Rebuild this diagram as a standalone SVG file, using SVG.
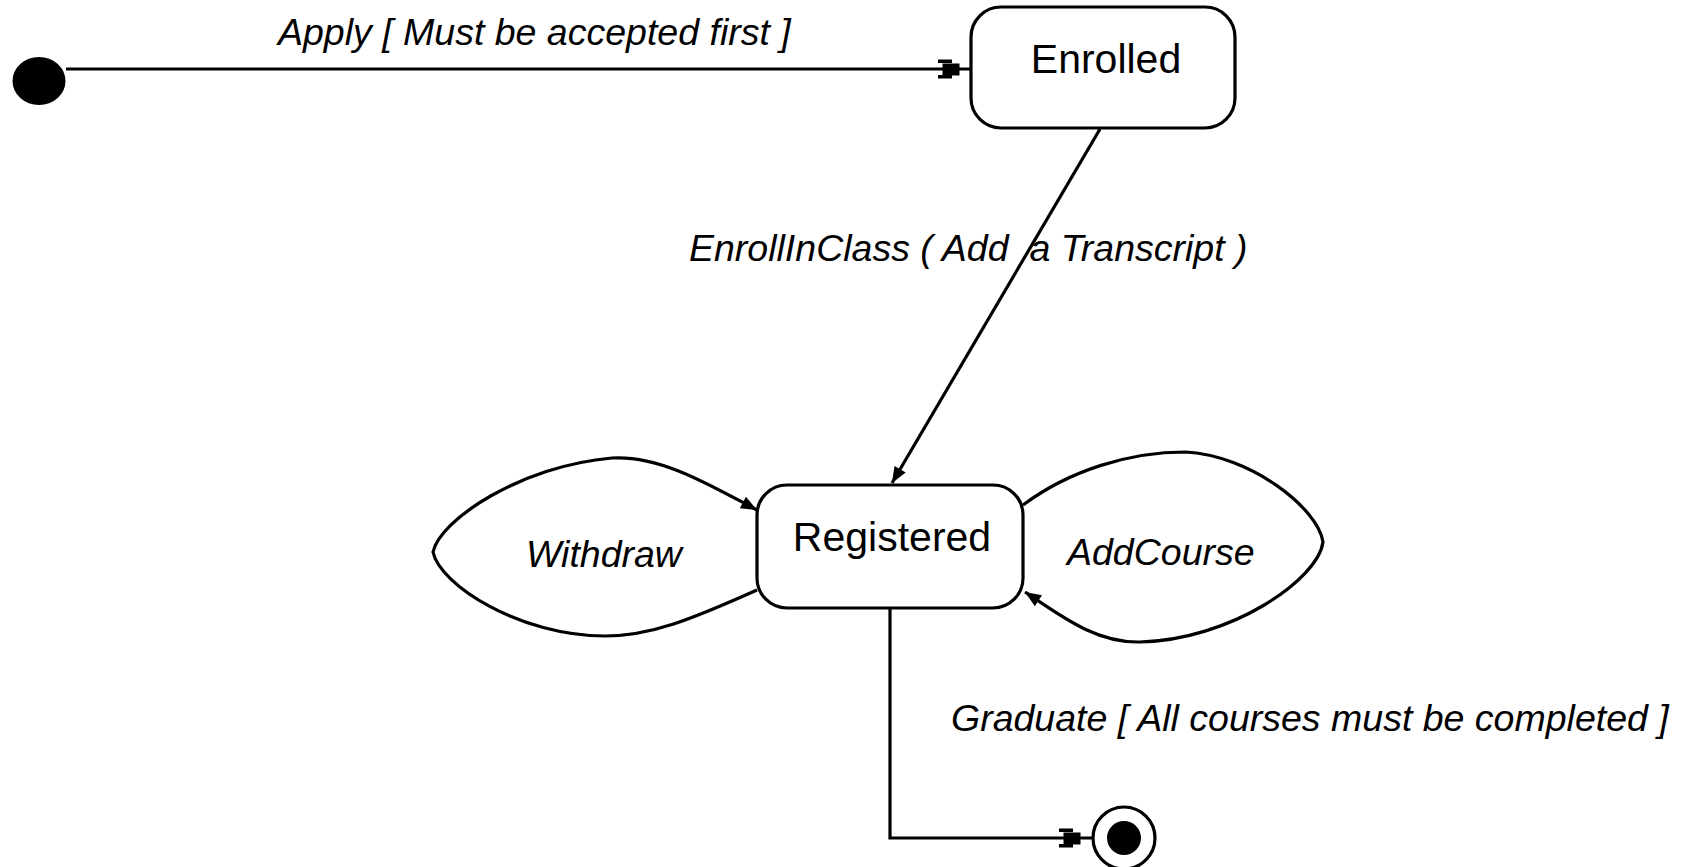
<svg xmlns="http://www.w3.org/2000/svg" width="1694" height="867" viewBox="0 0 1694 867">
<style>
.state{fill:#fff;stroke:#000;stroke-width:3.2}
.name{font-family:"Liberation Sans",Arial,sans-serif;font-size:41px;fill:#000;text-anchor:middle}
.lbl{font-family:"Liberation Sans",Arial,sans-serif;font-size:37.5px;font-style:italic;fill:#000}
.edge{fill:none;stroke:#000;stroke-width:3.2}
</style>
<defs>
<marker id="arrow" markerUnits="userSpaceOnUse" viewBox="-17 -8 18 16" refX="0" refY="0" markerWidth="18" markerHeight="16" orient="auto">
<path d="M0,0 L-16,-6.5 L-16,6.5 Z" fill="#000"/>
</marker>
<marker id="block" markerUnits="userSpaceOnUse" viewBox="-36 -12 40 24" refX="0" refY="0" markerWidth="40" markerHeight="24" orient="auto">
<rect x="-33" y="-9.5" width="14" height="3.5" fill="#000"/>
<rect x="-28.5" y="-5.5" width="17" height="12" fill="#000"/>
<rect x="-33" y="6" width="14" height="3.5" fill="#000"/>
</marker>
</defs>
<g id="connectors">
<path class="edge" d="M66,69 L971,69" marker-end="url(#block)"/>
<path class="edge" d="M1100,129 L892,483" marker-end="url(#arrow)"/>
<path class="edge" d="M757,590 C690,620 650,636 605,636 C520,636 440,585 433,552 C440,520 520,466 612,458 C660,455 710,485 757,510" marker-end="url(#arrow)"/>
<path class="edge" d="M1023,505 C1070,470 1130,452 1185,452 C1250,455 1318,508 1323,542 C1318,580 1230,640 1140,642 C1095,643 1060,615 1025,592" marker-end="url(#arrow)"/>
<path class="edge" d="M890,608 L890,838 L1092,838" marker-end="url(#block)"/>
<text class="lbl" x="278" y="45">Apply [ Must be accepted first ]</text>
<text class="lbl" x="689" y="261" xml:space="preserve">EnrollInClass ( Add  a Transcript )</text>
<text class="lbl" x="526" y="567">Withdraw</text>
<text class="lbl" x="1067" y="565">AddCourse</text>
<text class="lbl" x="951" y="731">Graduate [ All courses must be completed ]</text>
</g>
<g id="initial">
<ellipse cx="39" cy="81" rx="26.5" ry="24" fill="#000"/>
</g>
<g id="enrolled">
<rect class="state" x="971" y="7" width="264" height="121" rx="30" ry="30"/>
<text class="name" x="1106" y="73">Enrolled</text>
</g>
<g id="registered">
<rect class="state" x="757" y="485" width="266" height="123" rx="30" ry="30"/>
<text class="name" x="892" y="551">Registered</text>
</g>
<g id="final">
<circle cx="1124" cy="838" r="31" fill="#fff" stroke="#000" stroke-width="3.2"/>
<circle cx="1124" cy="838" r="17" fill="#000"/>
</g>
</svg>
